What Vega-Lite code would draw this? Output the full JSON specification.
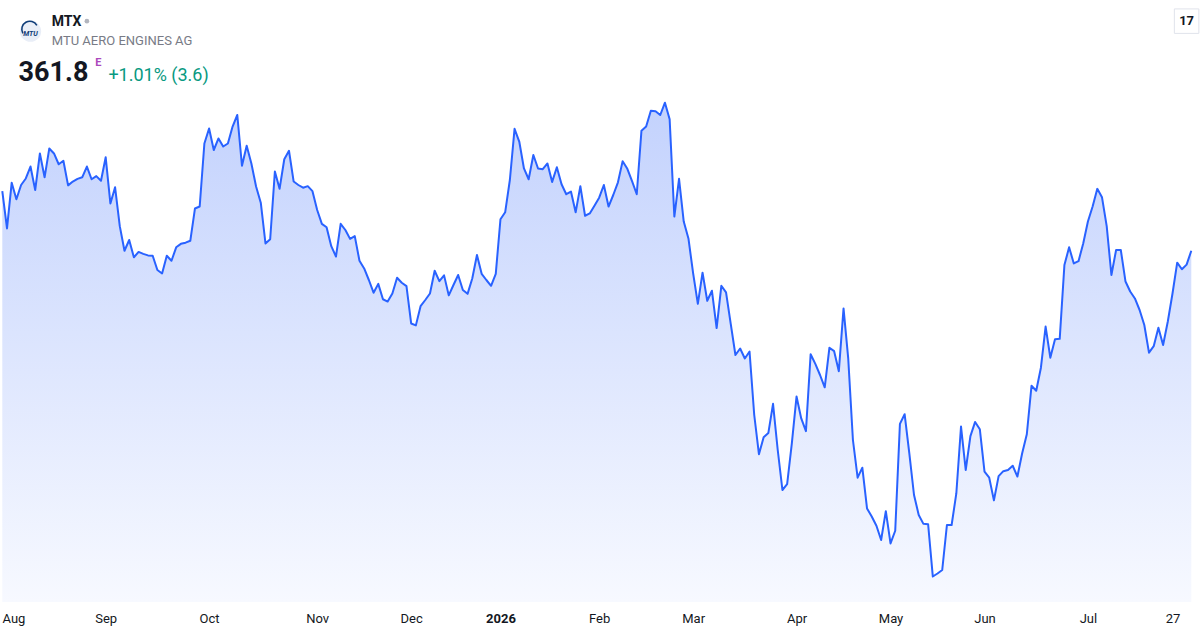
{
  "$schema": "https://vega.github.io/schema/vega-lite/v6.json",
  "width": 1200,
  "height": 602,
  "autosize": "none",
  "padding": {"left": 0, "top": 0, "right": 0, "bottom": 28},
  "background": "#ffffff",
  "config": {
    "view": {"stroke": null},
    "text": {"font": "Roboto"}
  },
  "datasets": {
    "prices": [
      {"date": "2025-07-31", "close": 377.3}, {"date": "2025-08-01", "close": 367.6}, {"date": "2025-08-04", "close": 379.5},
      {"date": "2025-08-05", "close": 375.2}, {"date": "2025-08-06", "close": 378.9}, {"date": "2025-08-07", "close": 380.6},
      {"date": "2025-08-08", "close": 383.7}, {"date": "2025-08-11", "close": 377.6}, {"date": "2025-08-12", "close": 387.1},
      {"date": "2025-08-13", "close": 380.9}, {"date": "2025-08-14", "close": 388.4}, {"date": "2025-08-15", "close": 387.1},
      {"date": "2025-08-18", "close": 384.3}, {"date": "2025-08-19", "close": 385.2}, {"date": "2025-08-20", "close": 378.8},
      {"date": "2025-08-21", "close": 379.8}, {"date": "2025-08-22", "close": 380.5}, {"date": "2025-08-25", "close": 380.9},
      {"date": "2025-08-26", "close": 383.7}, {"date": "2025-08-27", "close": 380.4}, {"date": "2025-08-28", "close": 381.2},
      {"date": "2025-08-29", "close": 380.0}, {"date": "2025-09-01", "close": 386.1}, {"date": "2025-09-02", "close": 374.1},
      {"date": "2025-09-03", "close": 378.3}, {"date": "2025-09-04", "close": 368.2}, {"date": "2025-09-05", "close": 361.8},
      {"date": "2025-09-08", "close": 364.6}, {"date": "2025-09-09", "close": 360.1}, {"date": "2025-09-10", "close": 361.5},
      {"date": "2025-09-11", "close": 361.0}, {"date": "2025-09-12", "close": 360.6}, {"date": "2025-09-15", "close": 360.5},
      {"date": "2025-09-16", "close": 356.8}, {"date": "2025-09-17", "close": 355.9}, {"date": "2025-09-18", "close": 360.5},
      {"date": "2025-09-19", "close": 359.2}, {"date": "2025-09-22", "close": 362.7}, {"date": "2025-09-23", "close": 363.6},
      {"date": "2025-09-24", "close": 363.9}, {"date": "2025-09-25", "close": 364.4}, {"date": "2025-09-26", "close": 372.8},
      {"date": "2025-09-29", "close": 373.3}, {"date": "2025-09-30", "close": 389.7}, {"date": "2025-10-01", "close": 393.6},
      {"date": "2025-10-02", "close": 388.0}, {"date": "2025-10-03", "close": 391.0}, {"date": "2025-10-06", "close": 388.9},
      {"date": "2025-10-07", "close": 389.7}, {"date": "2025-10-08", "close": 394.1}, {"date": "2025-10-09", "close": 397.1},
      {"date": "2025-10-10", "close": 383.9}, {"date": "2025-10-13", "close": 389.1}, {"date": "2025-10-14", "close": 384.5},
      {"date": "2025-10-15", "close": 378.5}, {"date": "2025-10-16", "close": 374.3}, {"date": "2025-10-17", "close": 363.7},
      {"date": "2025-10-20", "close": 364.8}, {"date": "2025-10-21", "close": 382.4}, {"date": "2025-10-22", "close": 377.9},
      {"date": "2025-10-23", "close": 385.6}, {"date": "2025-10-24", "close": 387.8}, {"date": "2025-10-27", "close": 379.8},
      {"date": "2025-10-28", "close": 378.9}, {"date": "2025-10-29", "close": 378.2}, {"date": "2025-10-30", "close": 378.6},
      {"date": "2025-10-31", "close": 377.3}, {"date": "2025-11-03", "close": 372.4}, {"date": "2025-11-04", "close": 368.8},
      {"date": "2025-11-05", "close": 367.9}, {"date": "2025-11-06", "close": 363.0}, {"date": "2025-11-07", "close": 360.3},
      {"date": "2025-11-10", "close": 368.8}, {"date": "2025-11-11", "close": 367.2}, {"date": "2025-11-12", "close": 364.9},
      {"date": "2025-11-13", "close": 365.6}, {"date": "2025-11-14", "close": 359.2}, {"date": "2025-11-17", "close": 357.2},
      {"date": "2025-11-18", "close": 354.2}, {"date": "2025-11-19", "close": 350.9}, {"date": "2025-11-20", "close": 353.2},
      {"date": "2025-11-21", "close": 349.2}, {"date": "2025-11-24", "close": 348.6}, {"date": "2025-11-25", "close": 350.7},
      {"date": "2025-11-26", "close": 354.8}, {"date": "2025-11-27", "close": 353.5}, {"date": "2025-11-28", "close": 352.6},
      {"date": "2025-12-01", "close": 342.9}, {"date": "2025-12-02", "close": 342.4}, {"date": "2025-12-03", "close": 347.4},
      {"date": "2025-12-04", "close": 349.0}, {"date": "2025-12-05", "close": 350.7}, {"date": "2025-12-08", "close": 356.6},
      {"date": "2025-12-09", "close": 353.9}, {"date": "2025-12-10", "close": 355.4}, {"date": "2025-12-11", "close": 350.2},
      {"date": "2025-12-12", "close": 352.9}, {"date": "2025-12-15", "close": 355.5}, {"date": "2025-12-16", "close": 351.6},
      {"date": "2025-12-17", "close": 350.6}, {"date": "2025-12-18", "close": 354.6}, {"date": "2025-12-19", "close": 360.7},
      {"date": "2025-12-22", "close": 355.8}, {"date": "2025-12-23", "close": 354.2}, {"date": "2025-12-29", "close": 352.7},
      {"date": "2025-12-30", "close": 355.8}, {"date": "2026-01-02", "close": 370.0}, {"date": "2026-01-05", "close": 371.8},
      {"date": "2026-01-06", "close": 380.2}, {"date": "2026-01-07", "close": 393.5}, {"date": "2026-01-08", "close": 390.2},
      {"date": "2026-01-09", "close": 383.2}, {"date": "2026-01-12", "close": 380.4}, {"date": "2026-01-13", "close": 386.7},
      {"date": "2026-01-14", "close": 383.2}, {"date": "2026-01-15", "close": 383.0}, {"date": "2026-01-16", "close": 384.5},
      {"date": "2026-01-19", "close": 379.7}, {"date": "2026-01-20", "close": 383.5}, {"date": "2026-01-21", "close": 379.1},
      {"date": "2026-01-22", "close": 376.5}, {"date": "2026-01-23", "close": 377.2}, {"date": "2026-01-26", "close": 371.8},
      {"date": "2026-01-27", "close": 378.6}, {"date": "2026-01-28", "close": 370.9}, {"date": "2026-01-29", "close": 371.5},
      {"date": "2026-01-30", "close": 373.5}, {"date": "2026-02-02", "close": 375.6}, {"date": "2026-02-03", "close": 378.9},
      {"date": "2026-02-04", "close": 373.3}, {"date": "2026-02-05", "close": 376.3}, {"date": "2026-02-06", "close": 379.6},
      {"date": "2026-02-09", "close": 385.1}, {"date": "2026-02-10", "close": 383.1}, {"date": "2026-02-11", "close": 379.9},
      {"date": "2026-02-12", "close": 376.5}, {"date": "2026-02-13", "close": 393.0}, {"date": "2026-02-16", "close": 394.1},
      {"date": "2026-02-17", "close": 398.2}, {"date": "2026-02-18", "close": 398.1}, {"date": "2026-02-19", "close": 397.1},
      {"date": "2026-02-20", "close": 400.3}, {"date": "2026-02-23", "close": 396.0}, {"date": "2026-02-24", "close": 370.7},
      {"date": "2026-02-25", "close": 380.5}, {"date": "2026-02-26", "close": 369.4}, {"date": "2026-02-27", "close": 365.0},
      {"date": "2026-03-02", "close": 355.9}, {"date": "2026-03-03", "close": 348.0}, {"date": "2026-03-04", "close": 356.1},
      {"date": "2026-03-05", "close": 348.8}, {"date": "2026-03-06", "close": 351.4}, {"date": "2026-03-09", "close": 341.7},
      {"date": "2026-03-10", "close": 352.7}, {"date": "2026-03-11", "close": 351.0}, {"date": "2026-03-12", "close": 342.8},
      {"date": "2026-03-13", "close": 334.7}, {"date": "2026-03-16", "close": 336.4}, {"date": "2026-03-17", "close": 333.8},
      {"date": "2026-03-18", "close": 335.6}, {"date": "2026-03-19", "close": 319.1}, {"date": "2026-03-20", "close": 308.9},
      {"date": "2026-03-23", "close": 313.3}, {"date": "2026-03-24", "close": 314.4}, {"date": "2026-03-25", "close": 322.0},
      {"date": "2026-03-26", "close": 310.0}, {"date": "2026-03-27", "close": 299.6}, {"date": "2026-03-30", "close": 301.1},
      {"date": "2026-03-31", "close": 311.7}, {"date": "2026-04-01", "close": 323.9}, {"date": "2026-04-02", "close": 318.2},
      {"date": "2026-04-07", "close": 314.9}, {"date": "2026-04-08", "close": 334.9}, {"date": "2026-04-09", "close": 332.4},
      {"date": "2026-04-10", "close": 329.5}, {"date": "2026-04-13", "close": 326.3}, {"date": "2026-04-14", "close": 336.6},
      {"date": "2026-04-15", "close": 335.7}, {"date": "2026-04-16", "close": 330.5}, {"date": "2026-04-17", "close": 346.8},
      {"date": "2026-04-20", "close": 333.8}, {"date": "2026-04-21", "close": 312.6}, {"date": "2026-04-22", "close": 302.8},
      {"date": "2026-04-23", "close": 305.4}, {"date": "2026-04-24", "close": 294.8}, {"date": "2026-04-27", "close": 292.7},
      {"date": "2026-04-28", "close": 290.3}, {"date": "2026-04-29", "close": 286.6}, {"date": "2026-04-30", "close": 294.1},
      {"date": "2026-05-04", "close": 285.7}, {"date": "2026-05-05", "close": 289.0}, {"date": "2026-05-06", "close": 316.8},
      {"date": "2026-05-07", "close": 319.3}, {"date": "2026-05-08", "close": 309.1}, {"date": "2026-05-11", "close": 298.3},
      {"date": "2026-05-12", "close": 293.1}, {"date": "2026-05-13", "close": 290.8}, {"date": "2026-05-14", "close": 290.7},
      {"date": "2026-05-15", "close": 277.1}, {"date": "2026-05-18", "close": 277.9}, {"date": "2026-05-19", "close": 278.8},
      {"date": "2026-05-20", "close": 290.5}, {"date": "2026-05-21", "close": 290.5}, {"date": "2026-05-22", "close": 298.7},
      {"date": "2026-05-25", "close": 316.1}, {"date": "2026-05-26", "close": 304.8}, {"date": "2026-05-27", "close": 313.6},
      {"date": "2026-05-28", "close": 317.3}, {"date": "2026-05-29", "close": 315.4}, {"date": "2026-06-01", "close": 304.4},
      {"date": "2026-06-02", "close": 302.8}, {"date": "2026-06-03", "close": 296.9}, {"date": "2026-06-04", "close": 303.2},
      {"date": "2026-06-05", "close": 304.5}, {"date": "2026-06-08", "close": 304.8}, {"date": "2026-06-09", "close": 305.9},
      {"date": "2026-06-10", "close": 303.1}, {"date": "2026-06-11", "close": 309.1}, {"date": "2026-06-12", "close": 314.1},
      {"date": "2026-06-15", "close": 326.7}, {"date": "2026-06-16", "close": 325.4}, {"date": "2026-06-17", "close": 331.4},
      {"date": "2026-06-18", "close": 342.1}, {"date": "2026-06-19", "close": 334.0}, {"date": "2026-06-22", "close": 338.8},
      {"date": "2026-06-23", "close": 338.9}, {"date": "2026-06-24", "close": 358.1}, {"date": "2026-06-25", "close": 362.7},
      {"date": "2026-06-26", "close": 358.5}, {"date": "2026-06-29", "close": 359.1}, {"date": "2026-06-30", "close": 363.7},
      {"date": "2026-07-01", "close": 369.4}, {"date": "2026-07-02", "close": 373.3}, {"date": "2026-07-03", "close": 377.9},
      {"date": "2026-07-06", "close": 375.7}, {"date": "2026-07-07", "close": 368.2}, {"date": "2026-07-08", "close": 355.5},
      {"date": "2026-07-09", "close": 362.0}, {"date": "2026-07-10", "close": 362.0}, {"date": "2026-07-13", "close": 353.8},
      {"date": "2026-07-14", "close": 351.2}, {"date": "2026-07-15", "close": 349.4}, {"date": "2026-07-16", "close": 346.4},
      {"date": "2026-07-17", "close": 342.5}, {"date": "2026-07-20", "close": 335.3}, {"date": "2026-07-21", "close": 337.0},
      {"date": "2026-07-22", "close": 341.8}, {"date": "2026-07-23", "close": 337.3}, {"date": "2026-07-24", "close": 343.4},
      {"date": "2026-07-27", "close": 350.7}, {"date": "2026-07-28", "close": 358.7}, {"date": "2026-07-29", "close": 357.0},
      {"date": "2026-07-30", "close": 358.2}, {"date": "2026-07-31", "close": 361.8}
    ]
  },
  "layer": [
    {
      "data": {"name": "prices"},
      "mark": {
        "type": "area",
        "opacity": 1,
        "fillOpacity": 1,
        "fill": {
          "gradient": "linear",
          "x1": 0, "y1": 0, "x2": 0, "y2": 1,
          "stops": [
            {"offset": 0, "color": "#c3d2fd"},
            {"offset": 1, "color": "#f7f9ff"}
          ]
        }
      },
      "encoding": {
        "x": {
          "field": "date",
          "type": "ordinal",
          "scale": {"type": "point", "range": [2.3, 1191.3], "padding": 0},
          "axis": {
            "title": null,
            "domain": false,
            "ticks": false,
            "grid": false,
            "labelAngle": 0,
            "values": ["2025-08-01", "2025-09-01", "2025-10-01", "2025-11-03", "2025-12-01", "2026-01-02",
                       "2026-02-02", "2026-03-02", "2026-04-01", "2026-05-04", "2026-06-01", "2026-07-01", "2026-07-27"],
            "labelExpr": "datum.value == '2026-01-02' ? '2026' : datum.value == '2026-07-27' ? '27' : utcFormat(toDate(datum.value), '%b')",
            "labelFont": "Roboto",
            "labelFontSize": 13,
            "labelColor": "#131722",
            "labelFontWeight": {"condition": {"test": "datum.value == '2026-01-02'", "value": "bold"}, "value": "normal"},
            "labelBaseline": "alphabetic",
            "labelPadding": 20,
            "labelFlush": 10,
            "labelFlushOffset": 5,
            "labelOverlap": false,
            "zindex": 1
          }
        },
        "y": {
          "field": "close",
          "type": "quantitative",
          "scale": {"domain": [270.48, 427], "zero": false, "nice": false},
          "axis": null
        },
        "y2": {"datum": 270.48}
      }
    },
    {
      "data": {"name": "prices"},
      "mark": {"type": "line", "color": "#2962FF", "strokeWidth": 2, "strokeJoin": "round"},
      "encoding": {
        "x": {"field": "date", "type": "ordinal"},
        "y": {"field": "close", "type": "quantitative"}
      }
    },
    {
      "data": {"values": [{"name": "MTU"}]},
      "mark": {"type": "point", "shape": "circle", "filled": true, "size": 452, "color": "#e9eef7", "opacity": 1},
      "encoding": {
        "x": {"datum": "2025-08-08", "type": "ordinal"},
        "y": {"datum": 418.9, "type": "quantitative"}
      }
    },
    {
      "data": {"values": [{"name": "MTU"}]},
      "mark": {"type": "point", "shape": "M-0.72,0.2 A0.75,0.75 0 0 1 0.6,-0.55", "filled": false, "size": 452, "color": "#0f3d78", "strokeWidth": 1.6, "opacity": 1},
      "encoding": {
        "x": {"datum": "2025-08-08", "type": "ordinal"},
        "y": {"datum": 418.9, "type": "quantitative"}
      }
    },
    {
      "data": {"values": [{"name": "MTU"}]},
      "mark": {"type": "text", "fontSize": 7, "fontStyle": "italic", "fontWeight": "bold", "color": "#0f3d78", "baseline": "middle", "dy": 3},
      "encoding": {
        "x": {"datum": "2025-08-08", "type": "ordinal"},
        "y": {"datum": 418.9, "type": "quantitative"},
        "text": {"field": "name"}
      }
    },
    {
      "data": {"values": [{"label": "MTX"}]},
      "mark": {"type": "text", "align": "left", "baseline": "alphabetic", "dx": 2.5, "fontSize": 14, "fontWeight": "bold", "color": "#131722"},
      "encoding": {
        "x": {"datum": "2025-08-14", "type": "ordinal"},
        "y": {"datum": 420.2, "type": "quantitative"},
        "text": {"field": "label"}
      }
    },
    {
      "data": {"values": [{"label": "status"}]},
      "mark": {"type": "point", "shape": "circle", "filled": true, "size": 22, "color": "#b2b5be", "opacity": 1},
      "encoding": {
        "x": {"datum": "2025-08-26", "type": "ordinal"},
        "y": {"datum": 421.5, "type": "quantitative"}
      }
    },
    {
      "data": {"values": [{"label": "MTU AERO ENGINES AG"}]},
      "mark": {"type": "text", "align": "left", "baseline": "alphabetic", "dx": 2.5, "fontSize": 13, "color": "#787b86"},
      "encoding": {
        "x": {"datum": "2025-08-14", "type": "ordinal"},
        "y": {"datum": 415.3, "type": "quantitative"},
        "text": {"field": "label"}
      }
    },
    {
      "data": {"values": [{"label": "361.8"}]},
      "mark": {"type": "text", "align": "left", "baseline": "alphabetic", "dx": -2.5, "fontSize": 27, "fontWeight": "bold", "color": "#131722"},
      "encoding": {
        "x": {"datum": "2025-08-06", "type": "ordinal"},
        "y": {"datum": 405.9, "type": "quantitative"},
        "text": {"field": "label"}
      }
    },
    {
      "data": {"values": [{"label": "E"}]},
      "mark": {"type": "text", "align": "left", "baseline": "alphabetic", "dx": -1, "fontSize": 11, "fontWeight": "bold", "color": "#ab47bc"},
      "encoding": {
        "x": {"datum": "2025-08-28", "type": "ordinal"},
        "y": {"datum": 409.9, "type": "quantitative"},
        "text": {"field": "label"}
      }
    },
    {
      "data": {"values": [{"label": "+1.01% (3.6)"}]},
      "mark": {"type": "text", "align": "left", "baseline": "alphabetic", "dx": -2, "fontSize": 18, "color": "#089981"},
      "encoding": {
        "x": {"datum": "2025-09-02", "type": "ordinal"},
        "y": {"datum": 405.9, "type": "quantitative"},
        "text": {"field": "label"}
      }
    },
    {
      "data": {"values": [{"label": "TV"}]},
      "mark": {"type": "point", "shape": "square", "filled": true, "size": 600, "color": "#ffffff", "stroke": "#e0e3eb", "strokeWidth": 1, "opacity": 1},
      "encoding": {
        "x": {"datum": "2026-07-30", "type": "ordinal"},
        "y": {"datum": 421.5, "type": "quantitative"}
      }
    },
    {
      "data": {"values": [{"label": "17"}]},
      "mark": {"type": "text", "align": "center", "baseline": "middle", "fontSize": 13, "fontWeight": "bold", "color": "#131722"},
      "encoding": {
        "x": {"datum": "2026-07-30", "type": "ordinal"},
        "y": {"datum": 421.5, "type": "quantitative"},
        "text": {"field": "label"}
      }
    }
  ]
}
